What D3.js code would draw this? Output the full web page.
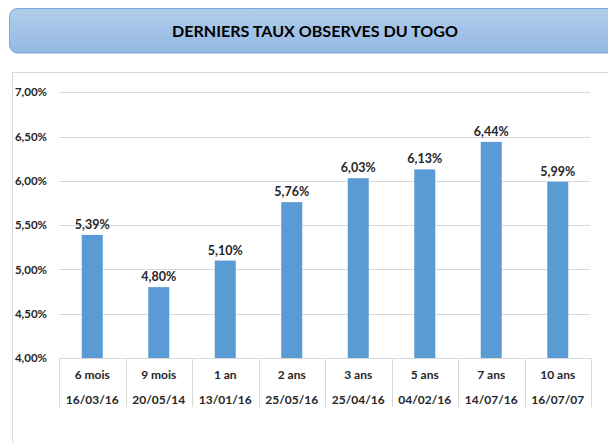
<!DOCTYPE html>
<html><head><meta charset="utf-8">
<script src="https://cdn.jsdelivr.net/npm/d3@7/dist/d3.min.js"></script>
<style>body{margin:0;background:#fff}svg{display:block}</style>
</head><body>
<script>
const terms = ["6 mois","9 mois","1 an","2 ans","3 ans","5 ans","7 ans","10 ans"];
const dates = ["16/03/16","20/05/14","13/01/16","25/05/16","25/04/16","04/02/16","14/07/16","16/07/07"];
const rates = [5.39,4.80,5.10,5.76,6.03,6.13,6.44,5.99];
const yTicks = [4.0,4.5,5.0,5.5,6.0,6.5,7.0];
const title = "DERNIERS TAUX OBSERVES DU TOGO";

const W=608,H=443;
const svg=d3.select("body").append("svg").attr("width",W).attr("height",H);
const font="Lato, 'Open Sans', sans-serif";
const fmt=v=>d3.format(".2f")(v).replace(".",",")+"%";

// title box
const defs=svg.append("defs");
const g=defs.append("linearGradient").attr("id","tg").attr("x1",0).attr("y1",0).attr("x2",0).attr("y2",1);
g.append("stop").attr("offset","0%").attr("stop-color","#b2cdeb");
g.append("stop").attr("offset","100%").attr("stop-color","#93b8e3");
svg.append("rect").attr("x",9.5).attr("y",8.5).attr("width",620).attr("height",44.5).attr("rx",8)
  .attr("fill","url(#tg)").attr("stroke","#7ba8dd").attr("stroke-width",1);
svg.append("text").attr("x",315).attr("y",36.5).attr("text-anchor","middle")
  .attr("font-family",font).attr("font-weight","bold").attr("font-size",16).attr("fill","#000")
  .attr("textLength",286).attr("lengthAdjust","spacingAndGlyphs")
  .text(title);

// chart area border
svg.append("rect").attr("x",12.5).attr("y",72.5).attr("width",700).attr("height",500)
  .attr("fill","#fff").attr("stroke","#d9d9d9");

const x=d3.scaleBand().domain(terms).range([59,591]).paddingInner(0.684).paddingOuter(0.342);
const y=d3.scaleLinear().domain([4,7]).range([358,92.3]);

// gridlines
svg.append("g").selectAll("line").data(yTicks.filter(t=>t>4)).join("line")
  .attr("x1",59).attr("x2",590).attr("y1",d=>Math.round(y(d))+0.5).attr("y2",d=>Math.round(y(d))+0.5)
  .attr("stroke","#d9d9d9");

// y axis labels
const yAxis=d3.axisLeft(y).tickValues(yTicks).tickFormat(fmt).tickSize(0).tickPadding(0);
const ya=svg.append("g").attr("transform","translate(47,0)").call(yAxis);
ya.select(".domain").remove();
ya.selectAll("text").attr("font-family",font).attr("font-weight","bold").attr("font-size",11.5).attr("fill","#262626");

// bars
svg.append("g").selectAll("rect").data(rates).join("rect")
  .attr("x",(d,i)=>x(terms[i])).attr("width",x.bandwidth())
  .attr("y",d=>y(d)).attr("height",d=>y(4)-y(d)).attr("fill","#5b9bd5");

// data labels
svg.append("g").selectAll("text").data(rates).join("text")
  .attr("x",(d,i)=>x(terms[i])+x.bandwidth()/2).attr("y",d=>y(d)-6)
  .attr("text-anchor","middle").attr("font-family",font).attr("font-weight","bold")
  .attr("font-size",12.5).attr("fill","#262626").text(fmt);

// category table
const step=x.step();
const bounds=d3.range(terms.length+1).map(i=>59+i*step);
svg.append("line").attr("x1",59).attr("x2",591).attr("y1",358.5).attr("y2",358.5).attr("stroke","#d9d9d9");
svg.append("g").selectAll("line").data(bounds).join("line")
  .attr("x1",d=>Math.round(d)+0.5).attr("x2",d=>Math.round(d)+0.5).attr("y1",358).attr("y2",407)
  .attr("stroke","#d9d9d9");
const tg=svg.append("g").attr("font-family",font).attr("font-weight","bold").attr("font-size",12).attr("fill","#262626").attr("text-anchor","middle");
tg.selectAll("text.t").data(terms).join("text").attr("class","t")
  .attr("x",d=>x(d)+x.bandwidth()/2).attr("y",379).text(d=>d);
tg.selectAll("text.d").data(dates).join("text").attr("class","d")
  .attr("x",(d,i)=>x(terms[i])+x.bandwidth()/2).attr("y",404).text(d=>d);
</script>
</body></html>
